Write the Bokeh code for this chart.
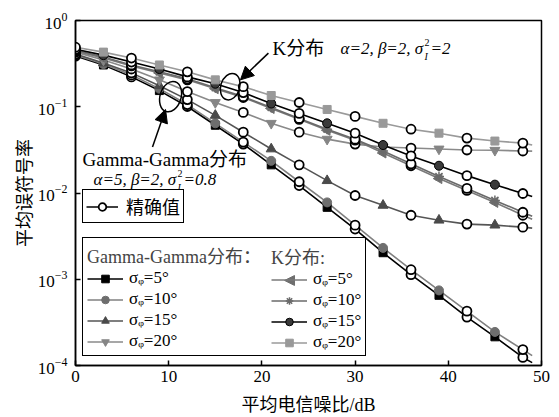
import math
from bokeh.plotting import figure
from bokeh.models import (Range1d, FixedTicker, Legend, LegendItem, Label,
                          Arrow, NormalHead, PolyAnnotation)
from bokeh.embed import file_html
from bokeh.resources import INLINE

# ---------------- data ----------------
snr_db = [0, 3, 6, 9, 12, 15, 18, 21, 24, 27, 30, 33, 36, 39, 42, 45, 48, 49]

gg_s5 = [0.387, 0.305, 0.222, 0.154, 0.1007, 0.0610, 0.0369, 0.0212, 0.0122,
         0.00682, 0.00382, 0.00203, 0.00113, 0.000651, 0.000364, 0.000215,
         0.000124, 0.000108]
gg_s10 = [0.397, 0.313, 0.234, 0.162, 0.106, 0.0643, 0.0389, 0.0236, 0.0135,
          0.00778, 0.00424, 0.00231, 0.00129, 0.000743, 0.000427, 0.000245,
          0.000153, 0.000130]
gg_s15 = [0.408, 0.321, 0.247, 0.175, 0.121, 0.0794, 0.0507, 0.0324, 0.0212,
          0.0139, 0.00936, 0.00719, 0.00552, 0.00484, 0.00436, 0.00424,
          0.00402, 0.00392]
gg_s20 = [0.430, 0.348, 0.274, 0.205, 0.150, 0.112, 0.0859, 0.0643, 0.0507,
          0.0421, 0.0369, 0.0341, 0.0332, 0.0324, 0.0315, 0.0313, 0.0307,
          0.0306]
k_s5 = [0.441, 0.367, 0.297, 0.247, 0.205, 0.162, 0.128, 0.0955, 0.0714,
        0.0534, 0.0410, 0.0291, 0.0207, 0.0147, 0.0107, 0.00778, 0.00552,
        0.00497]
k_s10 = [0.453, 0.377, 0.305, 0.254, 0.211, 0.166, 0.131, 0.0980, 0.0733,
         0.0549, 0.0421, 0.0307, 0.0218, 0.0155, 0.0113, 0.00820, 0.00598,
         0.00538]
k_s15 = [0.465, 0.397, 0.330, 0.274, 0.222, 0.185, 0.146, 0.109, 0.0837,
         0.0643, 0.0494, 0.0360, 0.0269, 0.0207, 0.0159, 0.0125, 0.00987,
         0.00912]
k_s20 = [0.490, 0.430, 0.367, 0.305, 0.254, 0.205, 0.171, 0.135, 0.112,
         0.0930, 0.0773, 0.0643, 0.0549, 0.0494, 0.0433, 0.0400, 0.0379,
         0.0360]

gg_labels = ["σᵩ=5°", "σᵩ=10°", "σᵩ=15°", "σᵩ=20°"]
k_labels = ["σᵩ=5°", "σᵩ=10°", "σᵩ=15°", "σᵩ=20°"]
x_ticks = [0, 10, 20, 30, 40, 50]
y_ticks = [1e-4, 1e-3, 1e-2, 1e-1, 1]

sim_idx = list(range(1, 16, 2))     # simulated points (filled markers)
exact_idx = list(range(0, 17, 2))   # exact values (open circles)

SERIF = "Liberation Serif"
MIX = "Liberation Serif, DejaVu Serif, Noto Sans CJK SC"

p = figure(width=559, height=417, y_axis_type="log",
           x_range=Range1d(0, 50), y_range=Range1d(1e-4, 1),
           output_backend="svg", toolbar_location=None,
           min_border_left=75, min_border_right=18, min_border_top=20,
           min_border_bottom=48)
p.grid.visible = False
p.outline_line_color = "black"
p.outline_line_width = 1.5
p.outline_line_alpha = 1.0
p.background_fill_color = "white"

p.xaxis.ticker = FixedTicker(ticks=x_ticks)
p.yaxis.ticker = FixedTicker(ticks=y_ticks)
for ax in (p.xaxis[0], p.yaxis[0]):
    ax.major_tick_in = 5
    ax.major_tick_out = 0
    ax.minor_tick_line_color = None
    ax.axis_line_width = 1.5
    ax.axis_line_color = "black"
    ax.major_tick_line_color = "black"
    ax.major_tick_line_width = 1.5
    ax.major_label_text_font = SERIF
    ax.major_label_text_font_size = "17px"
    ax.major_label_text_color = "black"
    ax.axis_label_text_font = MIX
    ax.axis_label_text_font_size = "18px"
    ax.axis_label_text_font_style = "normal"
    ax.axis_label_text_color = "black"
p.xaxis.axis_label = "平均电信噪比/dB"
p.yaxis.axis_label = "平均误符号率"
p.xaxis.major_label_standoff = 5
p.xaxis.axis_label_standoff = 10
p.yaxis.major_label_standoff = 8
p.yaxis.axis_label_standoff = 0

specs = [
    # values, line colour, marker, marker fill, marker line, angle, size
    (gg_s5, "#000000", "square", "#000000", "#000000", 0.0, 8),
    (gg_s10, "#808080", "circle", "#6e6e6e", "#6e6e6e", 0.0, 9),
    (gg_s15, "#555555", "triangle", "#4a4a4a", "#4a4a4a", 0.0, 10),
    (gg_s20, "#8a8a8a", "inverted_triangle", "#858585", "#858585", 0.0, 10),
    (k_s5, "#7a7a7a", "triangle", "#6e6e6e", "#6e6e6e", math.pi / 2, 10),
    (k_s10, "#6a6a6a", "asterisk", "#6a6a6a", "#6a6a6a", 0.0, 10),
    (k_s15, "#000000", "circle", "#3a3a3a", "#000000", 0.0, 9),
    (k_s20, "#9a9a9a", "square", "#999999", "#999999", 0.0, 8),
]

line_rs, mark_rs = [], []
for vals, lc, mk, mf, ml, ang, sz in specs:
    lr = p.line(snr_db, vals, line_color=lc, line_width=1.6)
    line_rs.append(lr)
for vals, lc, mk, mf, ml, ang, sz in specs:
    xs = [snr_db[i] for i in sim_idx]
    ys = [vals[i] for i in sim_idx]
    mr = p.scatter(xs, ys, marker=mk, size=sz, fill_color=mf, line_color=ml,
                   line_width=1.5 if mk == "asterisk" else 1.0, angle=ang)
    mark_rs.append(mr)

ex_x, ex_y = [], []
for vals, *_ in specs:
    ex_x += [snr_db[i] for i in exact_idx]
    ex_y += [vals[i] for i in exact_idx]
exact_r = p.scatter(ex_x, ex_y, marker="circle", size=9, fill_color="white",
                    line_color="black", line_width=1.8)

# left-pointing triangle for the K, sigma=5 legend entry (legend glyphs
# are always drawn unrotated); it sits under the transparent legend box
tri_x = [22.43, 23.50, 23.50]
tri_y = [9.68e-4, 1.104e-3, 8.48e-4]
p.add_layout(PolyAnnotation(xs=tri_x, ys=tri_y, fill_color="#6e6e6e",
                            fill_alpha=1.0, line_color="#6e6e6e",
                            line_alpha=1.0))

# ---------------- legends ----------------
def style_legend(lg):
    lg.label_text_font = MIX
    lg.label_text_font_size = "17px"
    lg.label_text_color = "black"
    lg.border_line_color = "black"
    lg.border_line_width = 1.5
    lg.border_line_alpha = 1.0
    lg.background_fill_color = "white"
    lg.background_fill_alpha = 1.0
    lg.margin = 0
    lg.spacing = 1
    lg.glyph_height = 19
    lg.glyph_width = 36
    lg.label_standoff = 6
    lg.label_height = 19
    lg.title_text_font = MIX
    lg.title_text_font_size = "18px"
    lg.title_text_font_style = "normal"
    lg.title_standoff = 0

leg_exact = Legend(items=[LegendItem(label="精确值",
                                     renderers=[line_rs[0], exact_r])],
                   location=(7, 142))
style_legend(leg_exact)
leg_exact.label_text_font_size = "18px"
leg_exact.padding = 3
leg_exact.glyph_width = 32
leg_exact.label_standoff = 8

leg_gg = Legend(items=[LegendItem(label=gg_labels[i],
                                  renderers=[line_rs[i], mark_rs[i]])
                       for i in range(4)],
                title="Gamma-Gamma分布：", location=(7, 9))
style_legend(leg_gg)
leg_gg.padding = 4
leg_gg.label_width = 232
leg_gg.background_fill_alpha = 0

k_items = []
for i in range(4):
    rs = [line_rs[4 + i]] if i == 0 else [line_rs[4 + i], mark_rs[4 + i]]
    k_items.append(LegendItem(label=k_labels[i], renderers=rs))
leg_k = Legend(items=k_items, title="K分布:", location=(192, 9))
style_legend(leg_k)
leg_k.padding = 4
leg_k.border_line_alpha = 0
leg_k.background_fill_alpha = 0

p.add_layout(leg_exact)
p.add_layout(leg_gg)
p.add_layout(leg_k)

# ---------------- annotations ----------------
def lab(x, y, text, size="19px", style="normal", font=MIX, color="black",
        align="left"):
    p.add_layout(Label(x=x, y=y, x_units="screen", y_units="screen",
                       text=text, text_font=font, text_font_size=size,
                       text_font_style=style, text_baseline="middle",
                       text_align=align, text_color=color))

# K distribution annotation
lab(197, 317, "K分布")
lab(265, 317, "α=2, β=2, σ", size="17px", style="italic", font=SERIF)
lab(349, 309, "I", size="10px", style="italic", font=SERIF)
lab(349, 323, "2", size="10px", font=SERIF)
lab(355, 317, "=2", size="17px", style="italic", font=SERIF)
# Gamma-Gamma annotation
lab(7, 206, "Gamma-Gamma分布")
lab(18, 186, "α=5, β=2, σ", size="17px", style="italic", font=SERIF)
lab(102, 178, "I", size="10px", style="italic", font=SERIF)
lab(102, 192, "2", size="10px", font=SERIF)
lab(108, 186, "=0.8", size="17px", style="italic", font=SERIF)

# ellipses marking the curve groups (data coordinates)
ell_x = [16.6, 10.2]
ell_y = [0.171, 0.131]
p.ellipse(ell_x, ell_y, width=[19, 21], height=[27, 31], width_units="screen",
          height_units="screen", angle=-0.3, fill_color=None,
          line_color="black", line_width=1.5)

p.add_layout(Arrow(x_start=20.7, y_start=0.419, x_end=17.7, y_end=0.205,
                   line_width=1.5, line_color="black",
                   end=NormalHead(size=13, fill_color="black",
                                  line_color="black")))
p.add_layout(Arrow(x_start=8.26, y_start=0.0341, x_end=9.66, y_end=0.093,
                   line_width=1.5, line_color="black",
                   end=NormalHead(size=13, fill_color="black",
                                  line_color="black")))

open("out.html", "w").write(file_html(p, INLINE))
